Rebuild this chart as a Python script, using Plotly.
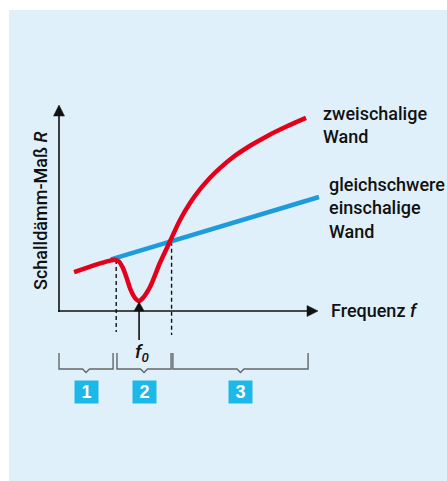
import plotly.graph_objects as go

# Schematic: sound reduction index R vs. frequency f (arbitrary units)
# double-leaf wall (red) vs. single-leaf wall of equal mass (blue)
freq_double = [0.58, 1.0, 1.58, 2.0, 2.15, 2.3, 2.45, 2.6, 2.75, 2.92, 3.08, 3.23,
               3.5, 3.88, 4.27, 4.65, 5.04, 5.42, 5.81, 6.19, 6.69, 7.35, 8.0, 8.77, 9.5]
r_double = [1.90, 2.08, 2.32, 2.47, 2.50, 2.42, 2.12, 1.62, 1.05, 0.64, 0.49, 0.64,
            1.17, 2.34, 3.40, 4.43, 5.27, 5.93, 6.50, 6.97, 7.50, 8.06, 8.53, 9.01, 9.42]

freq_single = [2.0, 10.0]
r_single = [2.52, 5.56]

# characteristic frequencies: start of dip, resonance f0, crossing point
f_start = 2.2
f_resonance = 3.08
f_cross = 4.33

# frequency ranges shown by the braces below the axis
ranges = [(0.0, 2.08, "1"), (2.23, 4.31, "2"), (4.38, 9.58, "3")]

# pixel geometry of the drawing canvas
W, H = 447, 481
X0_PX, Y0_PX = 59, 311       # axis origin in pixels
XU, YU = 26.0, 20.5          # pixels per data unit


def px_x(p):
    return (p - X0_PX) / XU


def px_y(p):
    return (Y0_PX - p) / YU


RED = "#e3001b"
BLUE = "#1e9bdc"
BOX = "#1cb9e8"
BG = "#dff0fa"
INK = "#111111"

fig = go.Figure()

fig.add_trace(go.Scatter(x=freq_single, y=r_single, mode="lines",
                         line=dict(color=BLUE, width=4.5), hoverinfo="skip"))
fig.add_trace(go.Scatter(x=freq_double, y=r_double, mode="lines",
                         line=dict(color=RED, width=4.5, shape="spline", smoothing=0.8),
                         hoverinfo="skip"))

shapes = []
# light blue panel
shapes.append(dict(type="rect", xref="paper", yref="paper", layer="below",
                   x0=9 / W, x1=1, y0=0, y1=1 - 10 / H,
                   fillcolor=BG, line=dict(width=0)))

# axes with arrow heads
ax_w = 1.6
shapes.append(dict(type="line", x0=px_x(58), x1=px_x(310), y0=0, y1=0,
                   line=dict(color=INK, width=ax_w)))
shapes.append(dict(type="path",
                   path=f"M {px_x(307)},{px_y(305.5)} L {px_x(318)},0 L {px_x(307)},{px_y(316.5)} Z",
                   fillcolor=INK, line=dict(color=INK, width=0.5)))
shapes.append(dict(type="line", x0=0, x1=0, y0=px_y(312), y1=px_y(114),
                   line=dict(color=INK, width=ax_w)))
shapes.append(dict(type="path",
                   path=f"M {px_x(53.5)},{px_y(116)} L 0,{px_y(105)} L {px_x(64.5)},{px_y(116)} Z",
                   fillcolor=INK, line=dict(color=INK, width=0.5)))

# dashed guides
for fx, ytop, ybot in [(f_start, 2.49, px_y(332)), (f_cross, 3.38, px_y(335))]:
    shapes.append(dict(type="line", x0=fx, x1=fx, y0=ytop, y1=ybot, layer="below",
                       line=dict(color=INK, width=1.4, dash="4px,3px")))

# arrow marking the resonance frequency f0
shapes.append(dict(type="line", x0=f_resonance, x1=f_resonance,
                   y0=px_y(340), y1=px_y(309), line=dict(color=INK, width=1.6)))
shapes.append(dict(type="path",
                   path=(f"M {f_resonance - 5 / XU},{px_y(311)} L {f_resonance},{px_y(302)} "
                         f"L {f_resonance + 5 / XU},{px_y(311)} Z"),
                   fillcolor=INK, line=dict(color=INK, width=0.5)))

# braces
ytop, ybot, notch = px_y(353), px_y(369), 3.5 / YU
for a, b, _ in ranges:
    m = (a + b) / 2
    d = 3.5 / XU
    path = (f"M {a},{ytop} L {a},{ybot} L {m - d},{ybot} L {m},{ybot - notch} "
            f"L {m + d},{ybot} L {b},{ybot} L {b},{ytop}")
    shapes.append(dict(type="path", path=path, line=dict(color="#666666", width=1.4)))

annotations = []
font = dict(family="Roboto, Liberation Sans, Arial, sans-serif", size=18, color=INK,
            weight=500)

annotations.append(dict(x=px_x(321), y=px_y(125), xanchor="left", yanchor="middle",
                        text="zweischalige<br>Wand", showarrow=False, align="left",
                        font=font))
annotations.append(dict(x=px_x(327), y=px_y(208), xanchor="left", yanchor="middle",
                        text="gleichschwere<br>einschalige<br>Wand", showarrow=False,
                        align="left", font=font))
annotations.append(dict(x=px_x(329), y=px_y(310), xanchor="left", yanchor="middle",
                        text="Frequenz <i>f</i>", showarrow=False, font=font))
annotations.append(dict(x=px_x(40), y=px_y(211), xanchor="center", yanchor="middle",
                        text="Schalldämm-Maß <i>R</i>", textangle=-90, showarrow=False,
                        font=font))
annotations.append(dict(x=f_resonance + 3 / XU, y=px_y(352), xanchor="center",
                        yanchor="middle", text="<i>f</i><sub><i>0</i></sub>",
                        showarrow=False, font=dict(font, size=19)))

for a, b, label in ranges:
    annotations.append(dict(x=(a + b) / 2, y=px_y(392), xanchor="center", yanchor="middle",
                            text=f"<b>{label}</b>", showarrow=False, width=19, height=18,
                            bgcolor=BOX, borderpad=2,
                            font=dict(family="Liberation Sans, Arial, sans-serif",
                                      size=18, color="white")))

fig.update_layout(
    width=W, height=H,
    margin=dict(l=0, r=0, t=0, b=0),
    paper_bgcolor="white", plot_bgcolor="rgba(0,0,0,0)",
    showlegend=False,
    xaxis=dict(range=[px_x(0), px_x(W)], visible=False, fixedrange=True),
    yaxis=dict(range=[px_y(H), px_y(0)], visible=False, fixedrange=True),
    shapes=shapes, annotations=annotations,
)

fig.write_html("out.html", config=dict(displayModeBar=False))
